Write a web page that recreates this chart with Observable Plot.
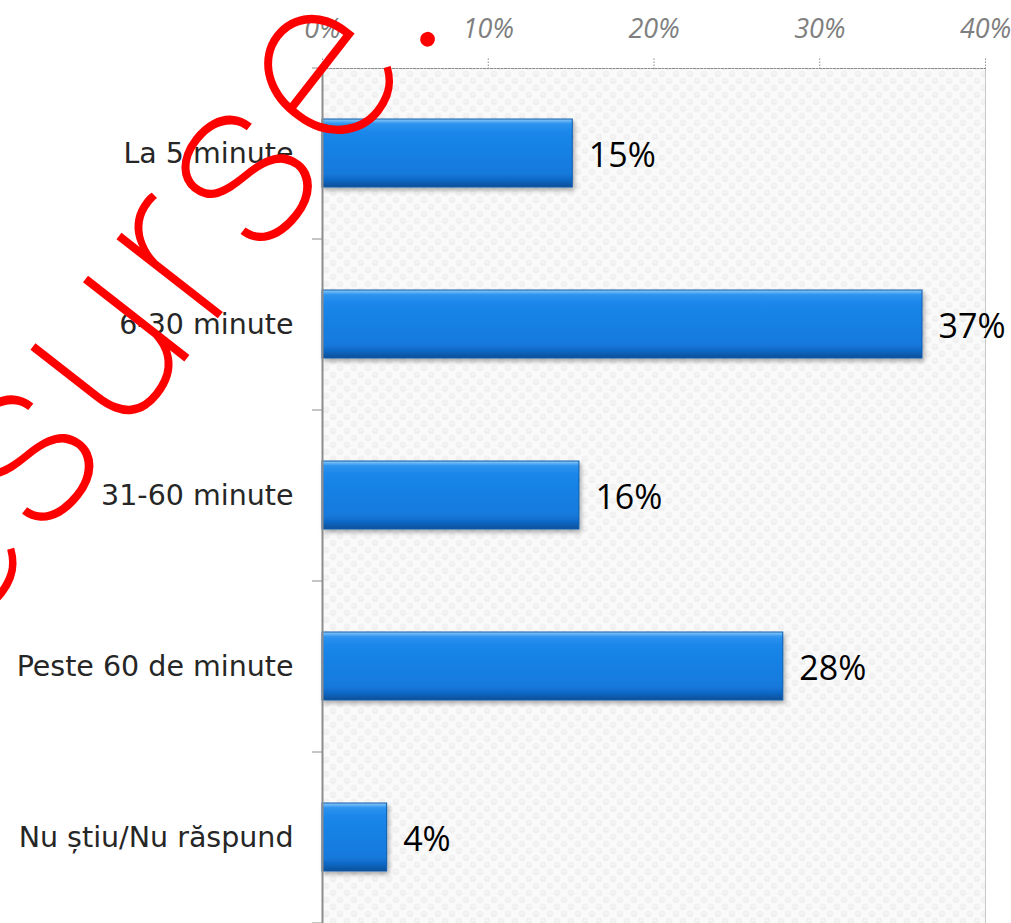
<!DOCTYPE html>
<html><head><meta charset="utf-8">
<script src="https://cdn.jsdelivr.net/npm/d3@7"></script>
<script src="https://cdn.jsdelivr.net/npm/@observablehq/plot@0.6"></script>
<style>body{margin:0;background:#fff} #chart{position:relative;width:1011px;height:923px;overflow:hidden}</style>
</head><body><div id="chart"></div>
<script>
const categories = ["La 5 minute", "6-30 minute", "31-60 minute", "Peste 60 de minute", "Nu știu/Nu răspund"];
const values = [15.1, 36.2, 15.5, 27.8, 3.9];
const valueLabels = ["15%", "37%", "16%", "28%", "4%"];
const xTicks = [0, 10, 20, 30, 40];
const watermark = "Resurse...";

const data = categories.map((c, i) => ({category: c, value: values[i], label: valueLabels[i]}));

const W = 1011, H = 923, mTop = 68, mLeft = 322, mRight = 26, mBottom = 0;
const step = (H - mTop - mBottom) / categories.length;

const chart = Plot.plot({
  width: W, height: H,
  marginTop: mTop, marginLeft: mLeft, marginRight: mRight, marginBottom: mBottom,
  style: {background: "#fff", overflow: "visible"},
  x: {domain: [0, 40]},
  y: {domain: categories, paddingInner: 0.6, paddingOuter: 0.3},
  marks: [
    Plot.frame({fill: "url(#bgPattern)", stroke: null}),
    Plot.frame({anchor: "right", stroke: "#c8c8c8"}),
    Plot.frame({anchor: "top", stroke: "#8c8c8c", strokeDasharray: "2,1.5"}),
    Plot.axisX({anchor: "top", ticks: xTicks, tickFormat: d => d + "%", tickSize: 11, tickPadding: 20,
      stroke: "#8c8c8c", strokeDasharray: "1.5,1.5", fill: "#7f7f7f",
      fontSize: 27, fontStyle: "italic", fontFamily: "Open Sans", label: null}),
    Plot.axisY({tickSize: 0, tickPadding: 29, fill: "#262626", fontSize: 28.5, fontFamily: "DejaVu Sans", label: null}),
    Plot.axisY({tickSize: 10, stroke: "#8c8c8c", fill: "none", dy: step / 2, label: null}),
    Plot.axisY([categories[0]], {tickSize: 10, stroke: "#8c8c8c", fill: "none", dy: -step / 2, label: null}),
    Plot.barX(data, {x: "value", y: "category", fill: "url(#barGrad)", stroke: "#0f5cae", strokeWidth: 1}),
    Plot.text(data, {x: "value", y: "category", text: "label", dx: 16, dy: 3, textAnchor: "start",
      fontSize: 34, fontFamily: "Open Sans", fill: "#000"}),
    Plot.frame({anchor: "left", stroke: "#8c8c8c", strokeWidth: 2})
  ]
});

const svg = d3.select(chart);
const defs = svg.insert("defs", ":first-child");
const g = defs.append("linearGradient").attr("id", "barGrad").attr("x1", 0).attr("y1", 0).attr("x2", 0).attr("y2", 1);
[[0, "#8ccbf8"], [0.07, "#2e93ef"], [0.2, "#1a86ea"], [0.8, "#1479dc"], [0.9, "#1067c4"], [1, "#0b4f96"]]
  .forEach(([o, c]) => g.append("stop").attr("offset", o).attr("stop-color", c));
const f = defs.append("filter").attr("id", "barShadow").attr("x", "-10%").attr("y", "-10%").attr("width", "130%").attr("height", "140%");
f.append("feDropShadow").attr("dx", 2).attr("dy", 3).attr("stdDeviation", 2).attr("flood-color", "#000").attr("flood-opacity", 0.3);
const p = defs.append("pattern").attr("id", "bgPattern").attr("patternUnits", "userSpaceOnUse").attr("width", 14).attr("height", 14);
p.append("rect").attr("width", 14).attr("height", 14).attr("fill", "#fafafa");
p.append("rect").attr("x", 0.5).attr("y", 0.5).attr("width", 6).attr("height", 6).attr("rx", 2).attr("fill", "#eeeeee");
p.append("rect").attr("x", 7.5).attr("y", 7.5).attr("width", 6).attr("height", 6).attr("rx", 2).attr("fill", "#eeeeee");
p.append("ellipse").attr("cx", 3.5).attr("cy", 3).attr("rx", 2).attr("ry", 0.8).attr("fill", "#fbfbfb");
p.append("ellipse").attr("cx", 10.5).attr("cy", 10).attr("rx", 2).attr("ry", 0.8).attr("fill", "#fbfbfb");
svg.selectAll('g[aria-label="bar"] rect').attr("filter", "url(#barShadow)");

svg.append("text")
  .attr("transform", "translate(-140,775) rotate(-52)")
  .attr("text-anchor", "start")
  .attr("font-family", "Roboto").attr("font-weight", 100).attr("font-size", 240)
  .attr("letter-spacing", 8)
  .attr("fill", "#ff0000").attr("stroke", "#ff0000").attr("stroke-width", 1.8)
  .text(watermark);

document.getElementById("chart").appendChild(chart);
</script>
</body></html>
